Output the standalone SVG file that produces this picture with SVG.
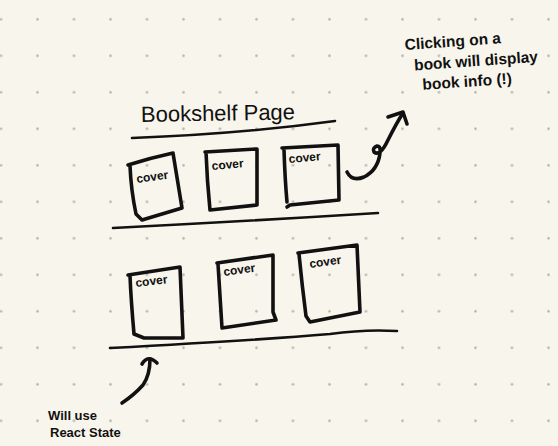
<svg xmlns="http://www.w3.org/2000/svg" width="558" height="446" viewBox="0 0 558 446">
<defs>
<pattern id="dots" patternUnits="userSpaceOnUse" x="-17.25" y="1.05" width="36.5" height="36.5">
<circle cx="18.25" cy="18.25" r="1.3" fill="#b3b1aa"/>
</pattern>
<style>
.ink{fill:none;stroke:#111;stroke-width:3.6;stroke-linecap:round;stroke-linejoin:round}
.thin{fill:none;stroke:#111;stroke-width:2.6;stroke-linecap:round;stroke-linejoin:round}
.hand{font-family:"Liberation Sans",Arial,sans-serif;fill:#111;font-weight:normal}
.bold{font-weight:bold}
.cov{font-size:12px;font-weight:bold}
</style>
</defs>
<rect width="558" height="446" fill="#f8f6ec"/>
<rect width="558" height="446" fill="url(#dots)"/>

<g id="title"><text class="hand" x="141" y="122" font-size="22" transform="rotate(-1 141 122)">Bookshelf Page</text></g>

<g id="shelves">
<path class="thin" d="M132 138 Q240 134 335 121"/>
<path class="thin" d="M113 228 Q250 221 378 213"/>
<path class="thin" d="M110 348 Q260 340 330 334 Q365 329 397 331"/>
</g>

<g id="book1"><path class="ink" d="M128 165 Q150 158 173 153 L182 208 L142 220 L136 214 Q131 190 130 166"/><text class="hand cov" x="137" y="183" transform="rotate(-8 137 183)">cover</text></g>
<g id="book2"><path class="ink" d="M205 152 L257 149 L257 205 L210 210 Q207 180 206 152"/><text class="hand cov" x="212" y="170" transform="rotate(-5 212 170)">cover</text></g>
<g id="book3"><path class="ink" d="M282 148 L338 145 L339 200 L290 205 L287 207 M284 150 Q285 180 287 202"/><text class="hand cov" x="289" y="163" transform="rotate(-5 289 163)">cover</text></g>

<g id="book4"><path class="ink" d="M128 275 L180 267 L183 338 L144 338 L134 334 Q131 300 130 276"/><text class="hand cov" x="136" y="287" transform="rotate(-7 136 287)">cover</text></g>
<g id="book5"><path class="ink" d="M217 263 L273 255 L273 312 L276 320 L222 328 Q220 295 218 264"/><text class="hand cov" x="224" y="276" transform="rotate(-8 224 276)">cover</text></g>
<g id="book6"><path class="ink" d="M298 253 L357 245 L360 312 L310 322 L306 316 Q302 285 299 254"/><text class="hand cov" x="310" y="268" transform="rotate(-8 310 268)">cover</text></g>

<g id="connectors">
<path class="ink" d="M347 172 Q352 182 364 177 Q378 170 380 153 Q381 146 377 146 Q372 148 374 152 Q380 157 388 140 Q396 124 403 113"/>
<path class="ink" d="M388 117 L403 112 L407 124"/>
<path class="ink" d="M122 403 Q134 395 143 385 Q150 375 150 359"/>
<path class="ink" d="M142 364 Q148 354 157 363"/>
</g>

<g id="note-click">
<text class="hand bold" font-size="15.5" transform="rotate(-4 405 50)"><tspan x="405" y="50">Clicking on a</tspan><tspan x="413" y="71">book will display</tspan><tspan x="420" y="91">book info (!)</tspan></text>
</g>

<g id="note-state">
<text class="hand bold" font-size="13"><tspan x="48" y="420">Will use</tspan><tspan x="50" y="437">React State</tspan></text>
</g>
</svg>
